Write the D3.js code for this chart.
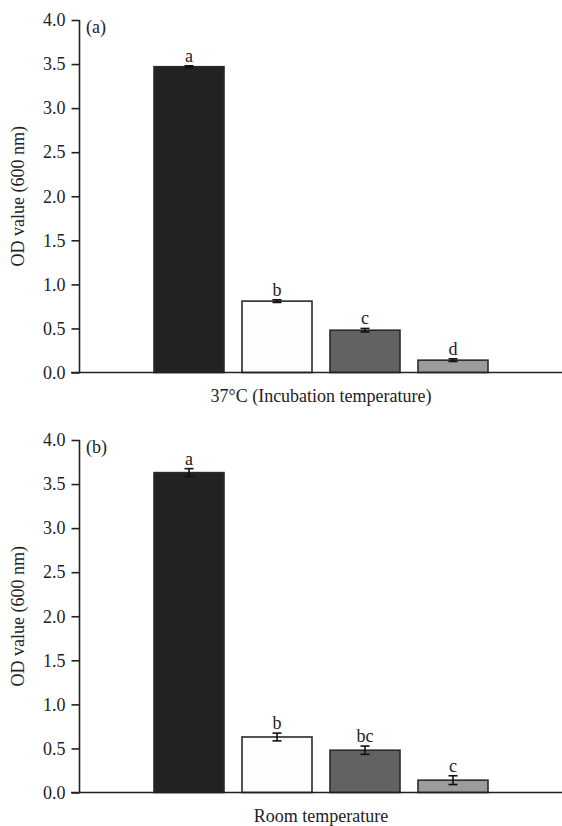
<!DOCTYPE html>
<html>
<head>
<meta charset="utf-8">
<script src="https://cdn.jsdelivr.net/npm/d3@7"></script>
<style>
  body { margin: 0; background: #fff; }
  svg { display: block; font-family: "Liberation Serif", "DejaVu Serif", serif; }
</style>
</head>
<body>
<svg id="chart" width="562" height="826"></svg>
<script>
// bar groups, same order in both panels
const groups = ['g1', 'g2', 'g3', 'g4']
const fills = ['#222222', '#fdfdfd', '#626262', '#9c9c9c']

const yTicks = [0, 0.5, 1.0, 1.5, 2.0, 2.5, 3.0, 3.5, 4.0]

// (a) 37°C
const meansA = [3.47, 0.81, 0.48, 0.14]
const errA = [0.01, 0.015, 0.02, 0.015]
const lettersA = ['a', 'b', 'c', 'd']

// (b) room temperature
const meansB = [3.63, 0.63, 0.48, 0.14]
const errB = [0.045, 0.044, 0.047, 0.05]
const lettersB = ['a', 'b', 'bc', 'c']

const svg = d3.select('#chart')
const ink = '#222'

function drawPanel(opts) {
  let g = svg.append('g')
  let y = d3.scaleLinear().domain([0, 4]).range([opts.bottom, opts.top])
  let x = d3.scaleBand().domain(groups).range([154, 488]).paddingInner(0.2045).paddingOuter(0)

  // y axis
  let yAxis = d3.axisLeft(y).tickValues(yTicks).tickSize(8).tickPadding(6)
    .tickFormat(d3.format('.1f'))
  let ax = g.append('g').attr('transform', 'translate(79.5,0)').call(yAxis)
    .attr('font-family', null).attr('font-size', 18)
  ax.select('.domain').attr('d', 'M0,' + opts.top + 'V' + opts.bottom).attr('stroke', ink).attr('stroke-width', 1.6)
  ax.selectAll('.tick line').attr('stroke', ink).attr('stroke-width', 1.6)
  ax.selectAll('.tick text').attr('fill', ink)

  // bars
  let rows = groups.map((k, i) => ({ k: k, v: opts.means[i], e: opts.err[i], lab: opts.letters[i], fill: fills[i] }))
  g.selectAll('rect.bar').data(rows).enter().append('rect')
    .attr('class', 'bar')
    .attr('x', d => x(d.k))
    .attr('width', x.bandwidth())
    .attr('y', d => y(d.v))
    .attr('height', d => y(0) - y(d.v))
    .attr('fill', d => d.fill)
    .attr('stroke', '#2a2a2a')
    .attr('stroke-width', 1.6)

  // baseline over the bar bottoms
  g.append('line')
    .attr('x1', 71).attr('x2', 562)
    .attr('y1', y(0)).attr('y2', y(0))
    .attr('stroke', ink).attr('stroke-width', 1.6)

  // error bars
  let cap = 4.5
  let eb = g.selectAll('g.err').data(rows).enter().append('g').attr('class', 'err')
    .attr('transform', d => 'translate(' + (x(d.k) + x.bandwidth() / 2) + ',0)')
  eb.append('line').attr('y1', d => y(d.v - d.e)).attr('y2', d => y(d.v + d.e))
  eb.append('line').attr('x1', -cap).attr('x2', cap).attr('y1', d => y(d.v + d.e)).attr('y2', d => y(d.v + d.e))
  eb.append('line').attr('x1', -cap).attr('x2', cap).attr('y1', d => y(d.v - d.e)).attr('y2', d => y(d.v - d.e))
  eb.selectAll('line').attr('stroke', '#111').attr('stroke-width', 1.6)

  // significance letters
  eb.append('text')
    .attr('y', d => y(d.v + d.e) - 4)
    .attr('text-anchor', 'middle')
    .attr('font-size', 18)
    .attr('fill', ink)
    .text(d => d.lab)

  // panel tag
  g.append('text').attr('x', 86).attr('y', opts.top + 13)
    .attr('font-size', 18).attr('fill', ink).text(opts.tag)

  // y title
  g.append('text')
    .attr('transform', 'translate(24,' + (opts.top + opts.bottom) / 2 + ') rotate(-90)')
    .attr('text-anchor', 'middle').attr('font-size', 18).attr('fill', ink)
    .text('OD value (600 nm)')

  // x title
  g.append('text').attr('x', 321).attr('y', opts.bottom + 29)
    .attr('text-anchor', 'middle').attr('font-size', 18).attr('fill', ink)
    .text(opts.xTitle)
}

drawPanel({ top: 20, bottom: 372.5, means: meansA, err: errA, letters: lettersA, tag: '(a)', xTitle: '37°C (Incubation temperature)' })
drawPanel({ top: 440, bottom: 792.5, means: meansB, err: errB, letters: lettersB, tag: '(b)', xTitle: 'Room temperature' })
</script>
</body>
</html>
